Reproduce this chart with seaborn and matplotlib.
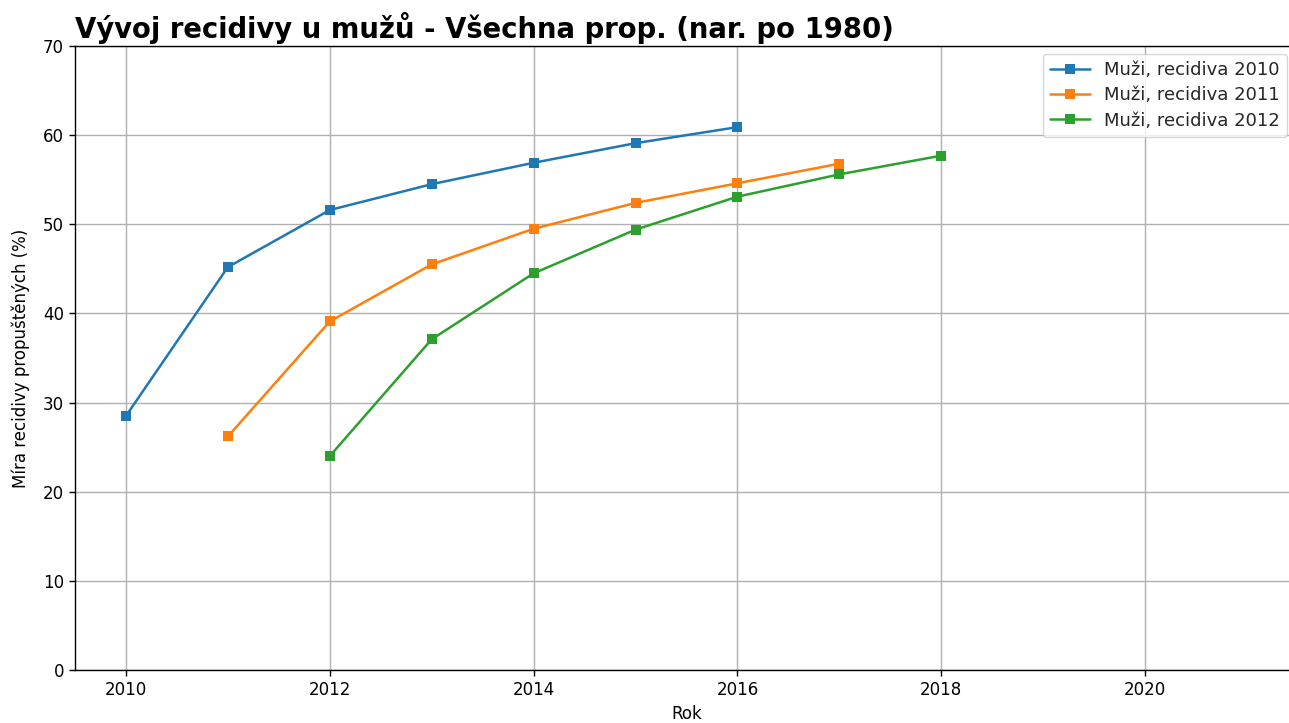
import pandas as pd
import matplotlib
matplotlib.use("Agg")
import matplotlib.pyplot as plt
import seaborn as sns

# data
roky_2010 = [2010, 2011, 2012, 2013, 2014, 2015, 2016]
mira_2010 = [28.5, 45.2, 51.6, 54.5, 56.9, 59.1, 60.9]
roky_2011 = [2011, 2012, 2013, 2014, 2015, 2016, 2017]
mira_2011 = [26.2, 39.1, 45.5, 49.5, 52.4, 54.6, 56.8]
roky_2012 = [2012, 2013, 2014, 2015, 2016, 2017, 2018]
mira_2012 = [24.0, 37.1, 44.5, 49.4, 53.1, 55.6, 57.7]
nazvy = ["Muži, recidiva 2010", "Muži, recidiva 2011", "Muži, recidiva 2012"]

df = pd.concat([
    pd.DataFrame({"Rok": roky_2010, "Mira": mira_2010, "Serie": nazvy[0]}),
    pd.DataFrame({"Rok": roky_2011, "Mira": mira_2011, "Serie": nazvy[1]}),
    pd.DataFrame({"Rok": roky_2012, "Mira": mira_2012, "Serie": nazvy[2]}),
])

sns.set_style("ticks", {"text.color": "black", "axes.labelcolor": "black",
                        "xtick.color": "black", "ytick.color": "black",
                        "axes.edgecolor": "black"})
plt.rcParams['font.family'] = ['DejaVu Sans']

fig = plt.figure(figsize=(12.89, 7.23), dpi=100)
# axes right edge runs past the figure edge (right spine cropped in reference)
ax = fig.add_axes([75 / 1289, (723 - 670) / 723, (1298 - 75) / 1289, (670 - 46) / 723])

sns.lineplot(data=df, x="Rok", y="Mira", hue="Serie", palette="tab10",
             marker="s", markersize=7.5, markeredgewidth=0, linewidth=1.8, ax=ax)

ax.set_xlim(2009.5, 2021.5)
ax.set_ylim(0, 70)
ax.set_xticks([2010, 2012, 2014, 2016, 2018, 2020])
ax.set_yticks(range(0, 71, 10))
ax.grid(True, color="#b0b0b0", linewidth=1.0)
ax.set_axisbelow(True)
ax.set_xlabel("Rok", fontsize=12)
ax.set_ylabel("Míra recidivy propuštěných (%)", fontsize=12, labelpad=9)
ax.tick_params(labelsize=12, length=4.5, width=1)
for s in ax.spines.values():
    s.set_linewidth(1)
ax.set_title("Vývoj recidivy u mužů - Všechna prop. (nar. po 1980)",
             loc="left", fontsize=19.8, fontweight="bold", pad=6)

leg = ax.legend(title=None, loc="upper right", bbox_to_anchor=(1287 / 1289, 1 - 54 / 723),
                bbox_transform=fig.transFigure, fontsize=13, borderaxespad=0,
                handlelength=2.2, labelspacing=0.4)
for t in leg.get_texts():
    t.set_color("#262626")

plt.savefig("out.png", dpi=100)
plt.close()
